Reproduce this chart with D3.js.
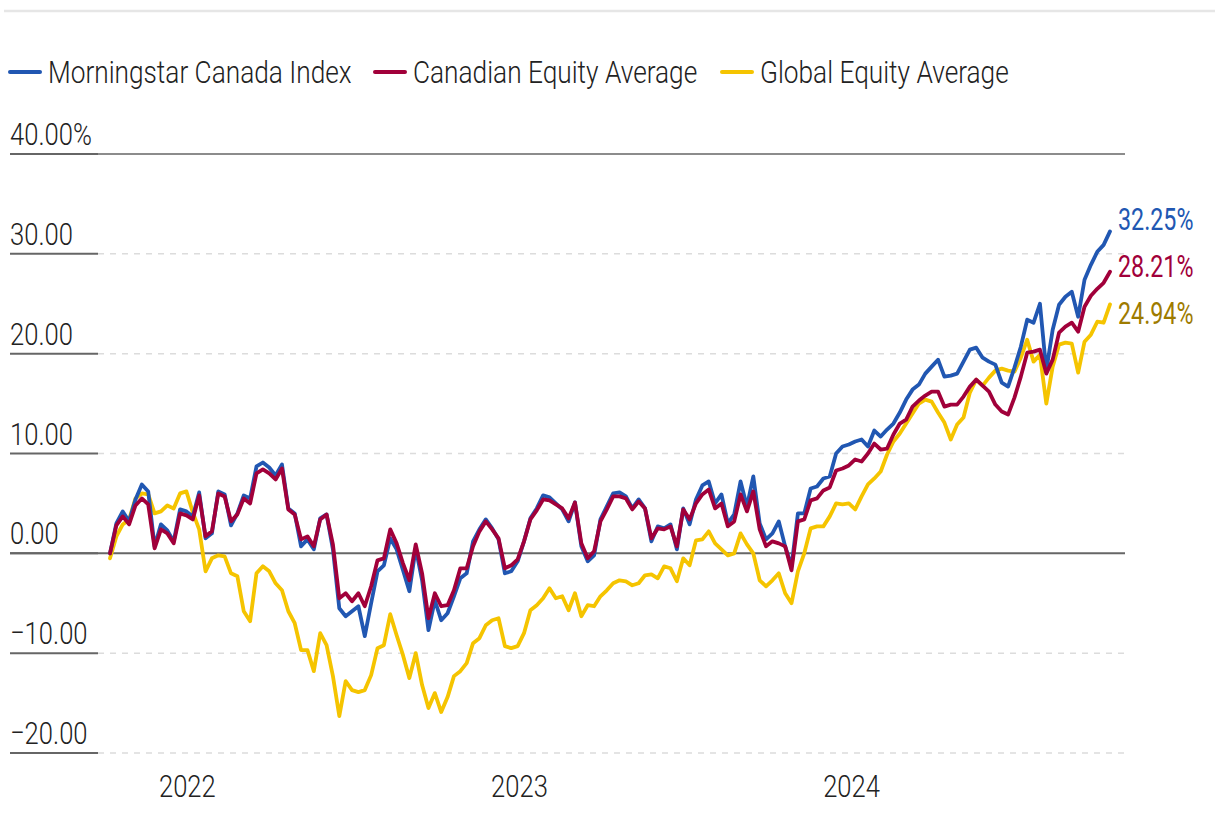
<!DOCTYPE html>
<html>
<head>
<meta charset="utf-8">
<script src="https://cdn.jsdelivr.net/npm/d3@7"></script>
<style>
  body { margin: 0; background: #fff; }
  text { font-family: Roboto, "Liberation Sans", sans-serif; font-weight: 300; fill: #222; }
</style>
</head>
<body>
<div id="chart"></div>
<script>
// weekly cumulative return (%), first week = 2021-10-08
var canadaIndex = [0,3.0,4.2,3.2,5.4,6.9,6.2,0.7,2.9,2.3,1.2,4.4,4.2,3.7,6.1,1.5,2.0,6.2,5.9,2.8,
  4.0,5.8,5.5,8.7,9.1,8.6,7.8,8.9,4.5,4.0,0.7,1.4,0.4,3.5,3.9,0.4,-5.5,-6.3,-5.8,-5.3,
  -8.3,-5.0,-1.8,-1.2,1.5,0.4,-1.7,-3.8,0.5,-2.7,-7.7,-4.7,-6.7,-6.0,-4.3,-2.5,-2.0,1.2,2.4,3.4,
  2.5,1.4,-2.0,-1.8,-0.8,1.2,3.5,4.5,5.8,5.6,5.0,4.4,3.2,5.1,0.7,-0.8,-0.2,3.4,4.7,6.0,
  6.1,5.7,4.5,5.4,4.5,1.2,2.7,2.5,2.9,0.4,4.5,2.9,5.4,6.8,7.2,5.0,5.9,3.0,3.9,7.2,
  4.7,7.7,3.0,1.4,2.0,3.2,0.7,-1.3,4.0,4.0,6.5,6.7,7.5,7.7,10.0,10.7,10.9,11.2,11.4,10.7,
  12.3,11.7,12.4,13.0,14.1,15.4,16.4,16.9,18.0,18.7,19.4,17.7,17.8,18.0,19.2,20.4,20.6,19.6,19.2,18.9,
  17.1,16.7,18.6,20.7,23.4,23.1,25.0,18.3,22.4,24.9,25.7,26.2,23.7,27.4,28.9,30.2,30.9,32.25];

var canadianEquity = [0,2.8,3.7,2.9,4.8,5.5,4.9,0.5,2.4,2.0,1.0,4.0,3.8,3.4,5.8,1.7,2.2,6.0,5.7,3.2,
  3.9,5.5,5.0,8.0,8.4,8.0,7.4,8.5,4.4,3.9,1.4,1.7,0.7,3.4,3.9,0.9,-4.5,-4.0,-4.8,-4.0,
  -5.3,-3.3,-0.7,-0.5,2.4,1.0,-1.0,-2.7,0.9,-2.0,-6.5,-4.0,-5.3,-5.2,-3.7,-1.5,-1.5,0.7,2.2,3.2,
  2.4,1.5,-1.5,-1.2,-0.6,1.2,3.4,4.3,5.4,5.3,4.9,4.5,3.5,5.1,1.0,-0.5,0.2,3.2,4.4,5.7,
  5.7,5.5,4.4,5.2,4.5,1.5,2.5,2.4,2.7,0.7,4.4,3.4,5.0,5.9,6.4,4.5,5.0,2.7,3.2,5.9,
  4.2,6.2,2.4,0.7,1.2,1.0,0.7,-1.7,3.2,3.4,5.3,5.5,6.3,6.6,8.3,8.5,8.8,9.4,9.2,10.0,
  11.0,10.4,10.5,11.9,13.0,13.4,14.7,15.3,15.8,16.2,16.2,14.7,14.9,14.9,15.7,16.7,17.4,16.8,16.2,14.9,
  14.2,13.9,15.6,17.7,20.1,20.2,20.4,18.0,19.4,22.1,22.7,23.1,22.2,24.7,25.8,26.5,27.1,28.21];

var globalEquity = [-0.5,1.7,2.9,3.4,5.5,6.0,5.9,4.0,4.2,4.8,4.5,6.0,6.2,4.1,2.4,-1.8,-0.5,-0.2,-0.3,-2.0,
  -2.3,-5.8,-6.8,-2.0,-1.3,-1.8,-3.0,-3.7,-5.8,-7.0,-9.7,-9.7,-11.8,-8.0,-9.2,-12.3,-16.3,-12.8,-13.7,-13.9,
  -13.7,-12.2,-9.5,-9.2,-6.1,-8.2,-10.2,-12.5,-10.0,-13.2,-15.5,-14.0,-15.9,-14.4,-12.3,-11.8,-11.0,-9.0,-8.5,-7.2,
  -6.7,-6.5,-9.3,-9.5,-9.3,-8.0,-5.7,-5.2,-4.5,-3.5,-4.5,-4.3,-5.7,-4.0,-6.3,-5.2,-5.3,-4.3,-3.7,-3.0,
  -2.7,-2.8,-3.2,-3.0,-2.2,-2.1,-2.5,-1.3,-1.5,-2.8,-0.5,-1.2,1.3,1.4,2.2,1.0,0.4,-0.2,0.0,2.0,
  0.9,0.0,-2.7,-3.3,-2.7,-2.0,-4.0,-5.0,-1.8,0.0,2.5,2.7,2.7,3.7,5.0,4.9,5.0,4.4,5.7,6.9,
  7.5,8.2,9.9,11.2,12.0,13.0,14.0,15.0,15.4,15.2,14.1,13.1,11.4,12.9,13.6,16.1,17.4,16.8,17.6,18.3,
  18.5,18.3,18.2,19.6,21.4,19.2,19.9,15.0,18.7,20.9,21.1,21.0,18.1,21.2,21.9,23.2,23.1,24.94];

var seriesNames = ["Morningstar Canada Index", "Canadian Equity Average", "Global Equity Average"];
var yTicks = [-20, -10, 0, 10, 20, 30, 40];
var yearTicks = [2022, 2023, 2024];

var lineColors = ["#2157b2", "#a1003a", "#f5c400"];
var labelColors = ["#2157b2", "#a1003a", "#9e7b00"];

var W = 1220, H = 818;
var svg = d3.select("#chart").append("svg").attr("width", W).attr("height", H);

// squeeze text horizontally to get the condensed look
function condense(sel, f) {
  sel.each(function() {
    var L = this.getComputedTextLength();
    d3.select(this).attr("textLength", L * f).attr("lengthAdjust", "spacingAndGlyphs");
  });
}

var startDate = new Date(2021, 9, 8);
var dates = canadaIndex.map(function(d, i) { return d3.timeDay.offset(startDate, 7 * i); });

var x = d3.scaleTime().domain([startDate, dates[dates.length - 1]]).range([110, 1110]);
var y = d3.scaleLinear().domain([-20, 40]).range([753, 154]);

// top rule
svg.append("line").attr("x1", 4).attr("x2", 1215).attr("y1", 11).attr("y2", 11)
  .attr("stroke", "#e6e6e6").attr("stroke-width", 2.5);

// legend
var legendX = [10, 375, 722];
seriesNames.forEach(function(name, i) {
  svg.append("line").attr("x1", legendX[i]).attr("x2", legendX[i] + 30)
    .attr("y1", 72).attr("y2", 72)
    .attr("stroke", lineColors[i]).attr("stroke-width", 4).attr("stroke-linecap", "round");
  svg.append("text").attr("x", legendX[i] + 38).attr("y", 83)
    .attr("font-size", 32).text(name).call(condense, 0.82);
});

// grid
yTicks.forEach(function(v) {
  var yy = y(v);
  if (v === 0 || v === 40) {
    svg.append("line").attr("x1", 10).attr("x2", 1125).attr("y1", yy).attr("y2", yy)
      .attr("stroke", "#666").attr("stroke-width", v === 0 ? 2 : 1.3);
  } else {
    svg.append("line").attr("x1", 98).attr("x2", 1125).attr("y1", yy).attr("y2", yy)
      .attr("stroke", "#dcdcdc").attr("stroke-width", 1.5).attr("stroke-dasharray", "6,6");
  }
  svg.append("line").attr("x1", 10).attr("x2", 98).attr("y1", yy).attr("y2", yy)
    .attr("stroke", "#666").attr("stroke-width", 2);
  var lab = v === 40 ? "40.00%" : (v < 0 ? "\u2212" + Math.abs(v).toFixed(2) : v.toFixed(2));
  svg.append("text").attr("x", 10).attr("y", yy - 9).attr("font-size", 32).text(lab)
    .call(condense, 0.8);
});

// year labels
yearTicks.forEach(function(yr) {
  svg.append("text").attr("x", x(new Date(yr, 0, 1))).attr("y", 797)
    .attr("text-anchor", "middle").attr("font-size", 32).text(yr).call(condense, 0.8);
});

// lines
var line = d3.line()
  .x(function(d, i) { return x(dates[i]); })
  .y(function(d) { return y(d); });

var allSeries = [canadaIndex, canadianEquity, globalEquity];
[2, 0, 1].forEach(function(k) {
  svg.append("path").datum(allSeries[k])
    .attr("d", line)
    .attr("fill", "none")
    .attr("stroke", lineColors[k])
    .attr("stroke-width", 3.8)
    .attr("stroke-linejoin", "round")
    .attr("stroke-linecap", "round");
});

// end labels, spaced so they don't collide
var ends = allSeries.map(function(s, i) {
  return { v: s[s.length - 1], i: i, pos: y(s[s.length - 1]) };
});
var gap = 47;
for (var it = 0; it < 50; it++) {
  for (var j = 1; j < ends.length; j++) {
    var d = ends[j].pos - ends[j - 1].pos;
    if (d < gap) {
      var shift = (gap - d) / 2;
      ends[j].pos += shift;
      ends[j - 1].pos -= shift;
    }
  }
}
ends.forEach(function(e) {
  svg.append("text").attr("x", 1118).attr("y", e.pos - 3)
    .attr("dy", "0.35em").attr("font-size", 31)
    .style("fill", labelColors[e.i]).style("font-weight", 400)
    .text(e.v.toFixed(2) + "%").call(condense, 0.75);
});
</script>
</body>
</html>
